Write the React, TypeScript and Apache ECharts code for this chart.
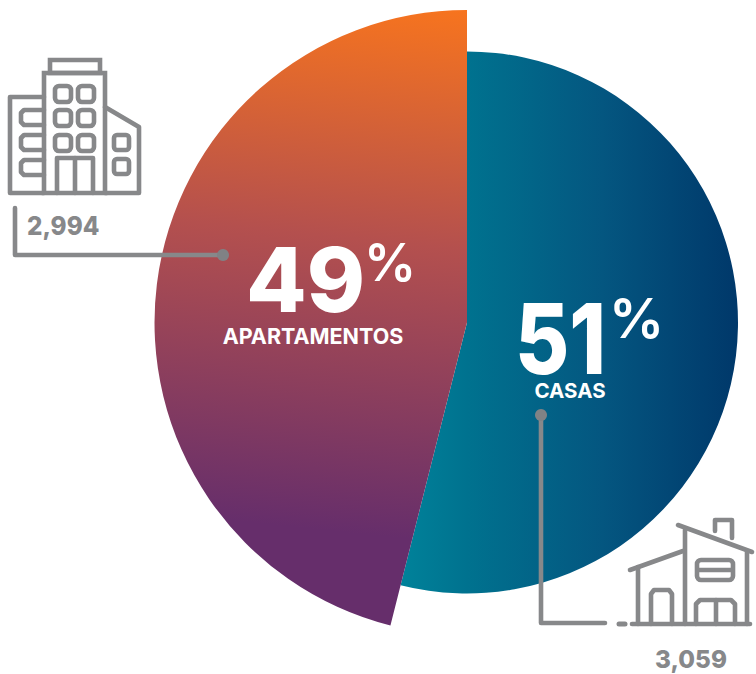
import React, { useEffect, useRef } from "react";
import * as echarts from "echarts";

const categories = ["CASAS", "APARTAMENTOS"];
const counts = ["3,059", "2,994"];
const percents = ["51", "49"];
// Slice shares as drawn in the picture (the artwork's sweep, not the printed percentage)
const drawnShares = [53.94, 46.06];

const GREY = "#87888A";
const FONT = "Inter, 'Open Sans', sans-serif";
const CX = 467;
const CY = 322.5;
const LW = 4.6;

const line = (points: number[][], lw = LW, z = 20) => ({
  type: "polyline",
  z,
  silent: true,
  shape: { points },
  style: { fill: "none", stroke: GREY, lineWidth: lw, lineCap: "round", lineJoin: "round" },
});
const box = (x: number, y: number, w: number, h: number, r = 0, lw = LW) => ({
  type: "rect",
  z: 20,
  silent: true,
  shape: { x, y, width: w, height: h, r },
  style: { fill: "none", stroke: GREY, lineWidth: lw },
});
const dot = (x: number, y: number, r = 6) => ({
  type: "circle",
  z: 21,
  silent: true,
  shape: { cx: x, cy: y, r },
  style: { fill: "#808285" },
});
const label = (
  text: string,
  x: number,
  y: number,
  fontSize: number,
  fill: string,
  fontWeight: number,
  align = "left",
  scaleX = 1
) => ({
  type: "text",
  z: 30,
  silent: true,
  x,
  y,
  scaleX,
  style: {
    text,
    fill,
    fontSize,
    fontWeight,
    fontFamily: FONT,
    align,
    verticalAlign: "middle",
  },
});

const building = [
  box(50, 60, 50, 13),
  box(44, 73, 61, 120),
  line([[44, 97], [10, 97], [10, 193], [44, 193]]),
  line([[105, 107], [139, 127], [139, 193], [105, 193]]),
  ...[86, 110, 135].flatMap((y) => [box(55, y, 16, 16, 4), box(78, y, 16, 16, 4)]),
  line([[57, 193], [57, 158], [93, 158], [93, 193]]),
  line([[75, 158], [75, 193]]),
  ...[110, 135, 160].map((y) =>
    line([[44, y], [24, y], [21, y + 3], [21, y + 12], [24, y + 15], [44, y + 15]])
  ),
  box(114, 135, 15, 15, 3),
  box(114, 159, 15, 15, 3),
];

const house = [
  line([[632, 624], [750, 624]]),
  line([[619, 624], [625, 624]], 5),
  line([[630, 570], [683, 551]]),
  line([[678, 525], [752, 552]]),
  line([[638, 567], [638, 624]]),
  line([[685, 530], [685, 624]]),
  line([[747, 551], [747, 624]]),
  line([[715, 531], [715, 520], [732, 520], [732, 538]]),
  box(697, 560, 36, 20, 4),
  line([[699, 570], [731, 570]]),
  line([[651, 624], [651, 594], [654, 590], [669, 590], [672, 594], [672, 624]]),
  line([[696, 624], [696, 604], [700, 600], [731, 600], [735, 604], [735, 624]]),
  line([[716, 600], [716, 624]]),
];

const leaders = [
  line([[15, 208], [15, 255], [222, 255]]),
  dot(223, 255),
  line([[541, 415], [541, 623], [605, 623]]),
  dot(541, 415),
];

const texts = [
  label(percents[1], 246, 279, 90, "#fff", 800, "left", 0.98),
  label("%", 364, 262, 52, "#fff", 600),
  label(categories[1], 313, 335.5, 21.5, "#fff", 700, "center"),
  label(percents[0], 515, 338, 98, "#fff", 800, "left", 0.85),
  label("%", 609, 318, 55, "#fff", 600),
  label(categories[0], 570, 390.5, 20.5, "#fff", 700, "center"),
  label(counts[1], 27, 226, 25.5, GREY, 800, "left", 0.95),
  label(counts[0], 691, 659, 25, GREY, 800, "center", 0.97),
];

const blueGradient = {
  type: "linear",
  global: true,
  x: 400,
  y: 0,
  x2: 738,
  y2: 0,
  colorStops: [
    { offset: 0, color: "#00829A" },
    { offset: 0.2, color: "#00728F" },
    { offset: 0.6, color: "#045680" },
    { offset: 1, color: "#00386A" },
  ],
};
const orangeGradient = {
  type: "linear",
  global: true,
  x: 475,
  y: 10,
  x2: 420,
  y2: 540,
  colorStops: [
    { offset: 0, color: "#F7741E" },
    { offset: 0.45, color: "#B4504E" },
    { offset: 1, color: "#662E6B" },
  ],
};

const hidden = { color: "rgba(0,0,0,0)" };

export default function App() {
  const ref = useRef<HTMLDivElement>(null);
  useEffect(() => {
    document.body.style.margin = "0";
    document.body.style.background = "#fff";
    const chart = echarts.init(ref.current!, null, { renderer: "svg" });
    const base = {
      type: "pie",
      center: [CX, CY],
      startAngle: 90,
      clockwise: true,
      silent: true,
      label: { show: false },
      labelLine: { show: false },
      emphasis: { disabled: true },
    };
    chart.setOption({
      animation: false,
      backgroundColor: "#fff",
      series: [
        {
          ...base,
          z: 2,
          radius: [0, 271],
          data: [
            { name: categories[0], value: drawnShares[0], itemStyle: { color: blueGradient } },
            { name: categories[1] + " base", value: drawnShares[1], itemStyle: hidden },
          ],
        },
        {
          ...base,
          z: 3,
          radius: [0, 312.5],
          data: [
            { name: categories[0] + " base", value: drawnShares[0], itemStyle: hidden },
            { name: categories[1], value: drawnShares[1], itemStyle: { color: orangeGradient } },
          ],
        },
      ],
      graphic: { elements: [...building, ...house, ...leaders, ...texts] },
    });
    return () => chart.dispose();
  }, []);
  return <div ref={ref} style={{ width: 756, height: 674 }} />;
}
